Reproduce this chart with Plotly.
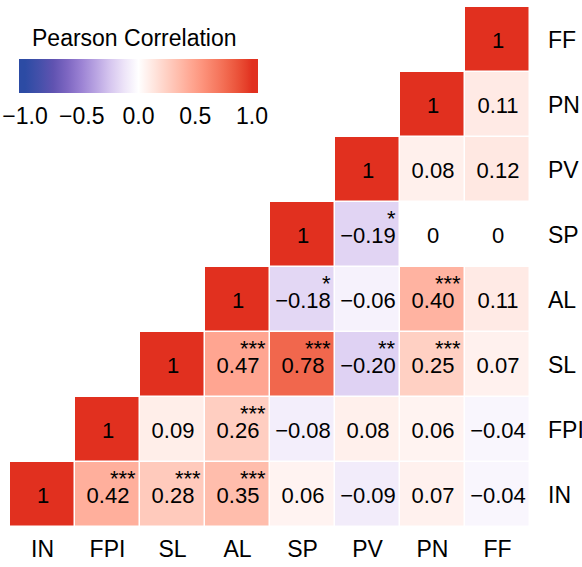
import numpy as np
import plotly.graph_objects as go

variables = ["IN", "FPI", "SL", "AL", "SP", "PV", "PN", "FF"]

# correlation rows (row variable -> values for columns IN..FF); None = not shown
r_IN = [1, 0.42, 0.28, 0.35, 0.06, -0.09, 0.07, -0.04]
r_FPI = [None, 1, 0.09, 0.26, -0.08, 0.08, 0.06, -0.04]
r_SL = [None, None, 1, 0.47, 0.78, -0.20, 0.25, 0.07]
r_AL = [None, None, None, 1, -0.18, -0.06, 0.40, 0.11]
r_SP = [None, None, None, None, 1, -0.19, 0, 0]
r_PV = [None, None, None, None, None, 1, 0.08, 0.12]
r_PN = [None, None, None, None, None, None, 1, 0.11]
r_FF = [None, None, None, None, None, None, None, 1]

s_IN = ["", "***", "***", "***", "", "", "", ""]
s_FPI = ["", "", "", "***", "", "", "", ""]
s_SL = ["", "", "", "***", "***", "**", "***", ""]
s_AL = ["", "", "", "", "*", "", "***", ""]
s_SP = ["", "", "", "", "", "*", "", ""]
s_PV = ["", "", "", "", "", "", "", ""]
s_PN = ["", "", "", "", "", "", "", ""]
s_FF = ["", "", "", "", "", "", "", ""]

corr_rows = [r_IN, r_FPI, r_SL, r_AL, r_SP, r_PV, r_PN, r_FF]
sig_rows = [s_IN, s_FPI, s_SL, s_AL, s_SP, s_PV, s_PN, s_FF]

cbar_title = "Pearson Correlation"
cbar_ticks = [-1.0, -0.5, 0.0, 0.5, 1.0]

# ---------- colour scale ----------
neg_vals = [-1.0, -0.875, -0.75, -0.625, -0.5, -0.375, -0.25, -0.125, 0.0]
neg_cols = ["#2C4BA4", "#4450AA", "#6053B1", "#7E67C2", "#9C83D4",
            "#B9A4E2", "#D6C6EF", "#EDE4F8", "#FFFFFF"]
MID, HIGH = "#FFFFFF", "#E1301F"


def hex2rgb(h):
    h = h.lstrip("#")
    return np.array([int(h[i:i + 2], 16) for i in (0, 2, 4)]) / 255.0


def srgb2lab(c):
    c = np.where(c <= 0.04045, c / 12.92, ((c + 0.055) / 1.055) ** 2.4)
    M = np.array([[0.4124, 0.3576, 0.1805], [0.2126, 0.7152, 0.0722], [0.0193, 0.1192, 0.9505]])
    xyz = M @ c / np.array([0.95047, 1.0, 1.08883])
    f = np.where(xyz > 0.008856, np.cbrt(xyz), 7.787 * xyz + 16 / 116)
    return np.array([116 * f[1] - 16, 500 * (f[0] - f[1]), 200 * (f[1] - f[2])])


def lab2srgb(lab):
    fy = (lab[0] + 16) / 116
    fx = fy + lab[1] / 500
    fz = fy - lab[2] / 200
    f = np.array([fx, fy, fz])
    xyz = np.where(f ** 3 > 0.008856, f ** 3, (f - 16 / 116) / 7.787) * np.array([0.95047, 1.0, 1.08883])
    Minv = np.array([[3.2406, -1.5372, -0.4986], [-0.9689, 1.8758, 0.0415], [0.0557, -0.2040, 1.0570]])
    c = np.clip(Minv @ xyz, 0, 1)
    c = np.where(c <= 0.0031308, 12.92 * c, 1.055 * c ** (1 / 2.4) - 0.055)
    c = np.clip(c, 0, 1)
    return "rgb(%d,%d,%d)" % tuple(np.round(c * 255).astype(int))


EXT = 1.053  # colourbar extends slightly beyond [-1, 1]


def frac(v):
    return (v + EXT) / (2 * EXT)


lab_mid, lab_high = srgb2lab(hex2rgb(MID)), srgb2lab(hex2rgb(HIGH))
colorscale = [[0.0, neg_cols[0]]]
for v, c in zip(neg_vals, neg_cols):
    colorscale.append([frac(v), c])
for v in np.linspace(0.05, 1, 20):
    colorscale.append([frac(v), lab2srgb(lab_mid + (lab_high - lab_mid) * v)])
colorscale.append([1.0, HIGH])


def fmt(v):
    if v is None:
        return ""
    if v == 1:
        return "1"
    if v == 0:
        return "0"
    return f"{v:.2f}".replace("-", "\u2212")


z = [[(np.nan if v is None else v) for v in row] for row in corr_rows]
text = [[fmt(v) for v in row] for row in corr_rows]

FONT = "Liberation Sans, Arial, Helvetica, sans-serif"
FS_CELL = 22
FS_AX = 23

# plot-area geometry (pixels)
ML, MR, MT, MB = 10, 52, 7, 40
PW = 582 - ML - MR
PH = 567 - MT - MB
CB_CX, CB_CY, CB_LEN, CB_TH = 138.5, 76, 239, 34


def px2py(y):  # page pixel y -> paper y
    return (MT + PH - y) / PH


def px2px(x):  # page pixel x -> paper x
    return (x - ML) / PW


fig = go.Figure()
fig.add_trace(go.Heatmap(
    z=z, x=list(range(len(variables))), y=list(range(len(variables))),
    text=text, texttemplate="%{text}",
    textfont=dict(family=FONT, size=FS_CELL, color="black"),
    colorscale=colorscale, zmin=-EXT, zmax=EXT,
    xgap=1.5, ygap=1.5, hoverongaps=False,
    colorbar=dict(
        orientation="h",
        x=px2px(CB_CX), xanchor="center",
        y=px2py(CB_CY - CB_TH / 2), yanchor="top",
        len=CB_LEN, lenmode="pixels", thickness=CB_TH,
        xpad=0, ypad=0, outlinewidth=0,
        tickvals=cbar_ticks,
        ticktext=[f"{t:.1f}".replace("-", "\u2212") for t in cbar_ticks],
        ticks="outside", ticklen=4, tickwidth=1, tickcolor="white",
        tickfont=dict(family=FONT, size=FS_AX, color="black"),
    ),
))

# colourbar title
fig.add_annotation(x=px2px(134.5), y=px2py(38), xref="paper", yref="paper",
                   text=cbar_title, showarrow=False, xanchor="center", yanchor="middle",
                   font=dict(family=FONT, size=FS_AX, color="black"))

# white tick dashes along the top and bottom edges of the colourbar
for t in cbar_ticks:
    xp = px2px(CB_CX - CB_LEN / 2 + frac(t) * CB_LEN)
    y_top = CB_CY - CB_TH / 2
    y_bot = CB_CY + CB_TH / 2
    for y0, y1 in ((y_top, y_top + 5), (y_bot - 5, y_bot)):
        fig.add_shape(type="line", xref="paper", yref="paper",
                      x0=xp, x1=xp, y0=px2py(y0), y1=px2py(y1),
                      line=dict(color="white", width=1.5))

for i, row in enumerate(sig_rows):
    for j, s in enumerate(row):
        if s:
            fig.add_annotation(
                x=j + 0.5, y=i + 0.5, xref="x", yref="y",
                text=s, showarrow=False, xanchor="right", yanchor="top",
                xshift=-2, yshift=-2,
                font=dict(family=FONT, size=FS_CELL, color="black"),
            )

fig.update_layout(
    width=582, height=567,
    margin=dict(l=ML, r=MR, t=MT, b=MB),
    paper_bgcolor="white", plot_bgcolor="white",
    font=dict(family=FONT, size=FS_AX, color="black"),
    xaxis=dict(tickmode="array", tickvals=list(range(len(variables))), ticktext=variables,
               range=[-0.5, 7.5], showgrid=False, zeroline=False, showline=False,
               ticks="", ticklabelstandoff=6, automargin=False,
               tickfont=dict(family=FONT, size=FS_AX, color="black")),
    yaxis=dict(tickmode="array", tickvals=list(range(len(variables))), ticktext=variables,
               range=[-0.5, 7.5], side="right", showgrid=False, zeroline=False,
               showline=False, ticks="", ticklabelstandoff=17, automargin=False,
               tickfont=dict(family=FONT, size=FS_AX, color="black")),
)

fig.write_html("out.html", config={"displayModeBar": False},
               post_script="document.body.style.margin='0';")
